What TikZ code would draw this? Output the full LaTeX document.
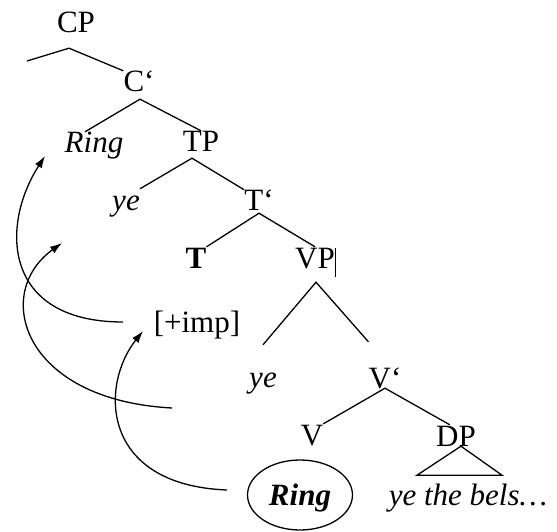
\documentclass[tikz,border=0pt]{standalone}
\usepackage{fontspec}
\setmainfont{Liberation Serif}
\usetikzlibrary{shapes.geometric,arrows.meta}

\begin{document}
\begin{tikzpicture}[x=1pt,y=-1pt,
    lbl/.style={anchor=base,inner sep=0pt,text height=21pt,text depth=0pt,
      font=\fontsize{31}{36}\selectfont},
    circled/.style={ellipse,draw,line width=1.3pt,inner sep=0pt,
      minimum width=105pt,minimum height=70pt,text height=21pt,text depth=0pt,
      font=\fontsize{31}{36}\selectfont\bfseries\itshape},
    branch/.style={line width=1.3pt},
    mv/.style={line width=1.3pt,-{Latex[length=12pt,width=8pt]}}]
  \useasboundingbox (0,0) rectangle (557,532);
  % labels
  \node[lbl] (cp) at (76,33) {CP};
  \node[lbl] (cbar) at (139,92) {C`};
  \node[lbl] (ringc) at (94,153) {\itshape Ring};
  \node[lbl] (tp) at (201,152) {TP};
  \node[lbl] (ye1) at (126,210) {\itshape ye};
  \node[lbl] (tbar) at (259,211) {T`};
  \node[lbl] (t) at (196,268) {\bfseries T};
  \node[lbl] (vp) at (315,268) {VP\rlap{\rule[-9pt]{1.2pt}{29pt}}};
  \node[lbl] (imp) at (197,332) {[+imp]};
  \node[lbl] (ye2) at (263,387) {\itshape ye};
  \node[lbl] (vbar) at (385,388) {V`};
  \node[lbl] (v) at (312,445) {V};
  \node[lbl] (dp) at (456,446) {DP};
  \node[circled] (ringv) at (300,495) {Ring};
  \node[lbl] (bels) at (468,505) {\itshape ye the bels\ldots};
  % branches
  \coordinate (spec) at (27,61);
  \coordinate (cpj) at ([shift={(-7,15)}]cp.south);
  \draw[branch] (spec) -- (cpj) -- (cbar.north west);
  \coordinate (cj) at ([shift={(1,7)}]cbar.south);
  \draw[branch] (ringc.130) -- (cj) -- (tp.north);
  \coordinate (tpj) at ([shift={(-9,6)}]tp.south);
  \draw[branch] (ye1.north east) -- (tpj) -- (tbar.north west);
  \coordinate (tj) at ([shift={(0,2)}]tbar.south);
  \draw[branch] (t.north east) -- (tj) -- (vp.north);
  \coordinate (vpj) at ([shift={(1,14)}]vp.south);
  \draw[branch] ([shift={(0,-21)}]ye2.north) -- (vpj)
    -- ([shift={(0,-25)}]vbar.north west);
  \draw[branch] (v.north east) -- (vbar.south) -- (dp.120);
  \draw[branch] ([xshift=5pt]dp.south) -- ++(-44,29) -- ++(85,0) -- cycle;
  % movement
  \coordinate (impout) at (123,322);
  \coordinate (cspec) at (45,156);
  \coordinate (yeout) at (172,408);
  \coordinate (tspec) at (62,243);
  \coordinate (ringout) at (227,490);
  \coordinate (timp) at (143,331);
  \draw[mv] (impout) .. controls +(-120,0) and +(-45,70) .. (cspec);
  \draw[mv] (yeout) .. controls +(-150,-8) and +(-70,50) .. (tspec);
  \draw[mv] (ringout) .. controls +(-127,-5) and +(-43,54) .. (timp);
\end{tikzpicture}
\end{document}
